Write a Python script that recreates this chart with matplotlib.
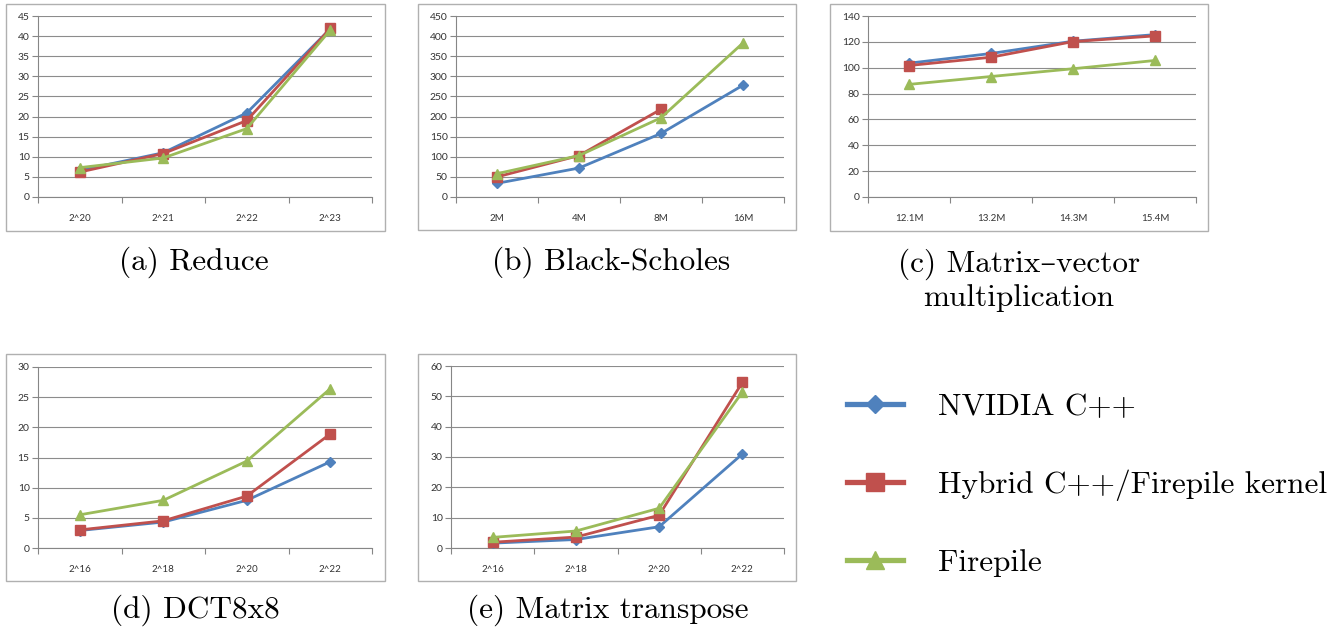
import matplotlib
matplotlib.use("Agg")
import matplotlib.pyplot as plt
import numpy as np
from matplotlib.lines import Line2D
from matplotlib.patches import Rectangle

# series data, one list per curve
reduce_x = ["2^20", "2^21", "2^22", "2^23"]
reduce_nvidia = [6.6, 11.0, 20.9, 41.8]
reduce_hybrid = [6.2, 10.8, 19.0, 41.9]
reduce_firepile = [7.3, 9.7, 17.0, 41.5]

bs_x = ["2M", "4M", "8M", "16M"]
bs_nvidia = [34, 72, 158, 278]
bs_hybrid = [50, 103, 218, np.nan]
bs_firepile = [58, 103, 197, 383]

mv_x = ["12.1M", "13.2M", "14.3M", "15.4M"]
mv_nvidia = [103.5, 111.0, 120.5, 125.6]
mv_hybrid = [101.7, 108.1, 120.2, 124.6]
mv_firepile = [87.1, 93.2, 99.2, 105.6]

dct_x = ["2^16", "2^18", "2^20", "2^22"]
dct_nvidia = [2.9, 4.3, 7.9, 14.3]
dct_hybrid = [3.0, 4.5, 8.6, 18.9]
dct_firepile = [5.5, 7.9, 14.4, 26.4]

tr_x = ["2^16", "2^18", "2^20", "2^22"]
tr_nvidia = [1.6, 2.8, 7.0, 31.0]
tr_hybrid = [1.9, 3.6, 10.8, 54.6]
tr_firepile = [3.5, 5.6, 13.1, 51.4]

series_names = ["NVIDIA C++", "Hybrid C++/Firepile kernel", "Firepile"]
colors = ["#4F81BD", "#C0504D", "#9BBB59"]
markers = ["D", "s", "^"]
msizes = [5, 6.5, 7]

W, H = 1343, 632
fig = plt.figure(figsize=(W / 100, H / 100), dpi=100)
serif = ["cmr10", "DejaVu Serif"]


def px_rect(l, r, t, b):
    return [l / W, 1 - b / H, (r - l) / W, (b - t) / H]


def panel(box, frame, cats, ys, ymax, step):
    fl, fr, ft, fb = frame
    fig.patches.append(Rectangle((fl / W, 1 - fb / H), (fr - fl) / W, (fb - ft) / H,
                                 transform=fig.transFigure, fill=False,
                                 edgecolor="#b0b0b0", lw=1.0, zorder=0))
    ax = fig.add_axes(px_rect(*box))
    x = np.arange(len(cats))
    for y, c, m, ms in zip(ys, colors, markers, msizes):
        ax.plot(x, y, color=c, lw=2.0, marker=m, ms=ms, mfc=c, mec=c, zorder=3)
    ax.set_xlim(-0.5, len(cats) - 0.5)
    ax.set_ylim(0, ymax)
    ax.set_yticks(np.arange(0, ymax + step / 2, step))
    ax.set_xticks(np.arange(-0.5, len(cats)), labels=[])
    ax.set_xticks(x, labels=cats, minor=True)
    ax.tick_params(axis="x", which="major", length=4, color="#868686", direction="out")
    ax.tick_params(axis="x", which="minor", length=0, pad=12, labelsize=7, labelcolor="#333333")
    ax.tick_params(axis="y", length=4, color="#868686", labelsize=7.5, labelcolor="#333333", pad=2)
    for lab in ax.get_xticklabels(minor=True) + ax.get_yticklabels():
        lab.set_family("Lato")
    ax.grid(axis="y", color="#8c8c8c", lw=0.8)
    ax.set_axisbelow(True)
    for s in ["top", "right"]:
        ax.spines[s].set_visible(False)
    for s in ["left", "bottom"]:
        ax.spines[s].set_color("#868686")
        ax.spines[s].set_linewidth(0.8)
    return ax


panel((38, 372, 16, 197), (6, 385, 4, 231), reduce_x,
      [reduce_nvidia, reduce_hybrid, reduce_firepile], 45, 5)
panel((456, 784, 16, 197), (418, 796, 4, 230), bs_x,
      [bs_nvidia, bs_hybrid, bs_firepile], 450, 50)
panel((868, 1196, 16, 197), (830, 1208, 4, 231), mv_x,
      [mv_nvidia, mv_hybrid, mv_firepile], 140, 20)
panel((38, 372, 367, 548), (6, 385, 354, 581), dct_x,
      [dct_nvidia, dct_hybrid, dct_firepile], 30, 5)
panel((451, 784, 366, 548), (418, 796, 354, 581), tr_x,
      [tr_nvidia, tr_hybrid, tr_firepile], 60, 10)

cap = dict(ha="center", va="center", fontsize=22.5, family=serif)
fig.text(194 / W, 1 - 262 / H, "(a) Reduce", **cap)
fig.text(611 / W, 1 - 262 / H, "(b) Black-Scholes", **cap)
fig.text(1019 / W, 1 - 280 / H, "(c) Matrix\u2013vector\nmultiplication",
         linespacing=1.2, **cap)
fig.text(195 / W, 1 - 610 / H, "(d) DCT8x8", **cap)
fig.text(608 / W, 1 - 610 / H, "(e) Matrix transpose", **cap)

handles = [Line2D([], [], color=c, lw=3.8, marker=m, ms=ms * 1.9, mfc=c, mec=c)
           for c, m, ms in zip(colors, markers, msizes)]
fig.legend(handles, series_names, loc="upper left",
           bbox_to_anchor=(819 / W, 1 - 365 / H), frameon=False,
           prop={"family": serif, "size": 22.5}, handlelength=1.8,
           handletextpad=1.1, labelspacing=1.55)

fig.savefig("out.png", dpi=100)
